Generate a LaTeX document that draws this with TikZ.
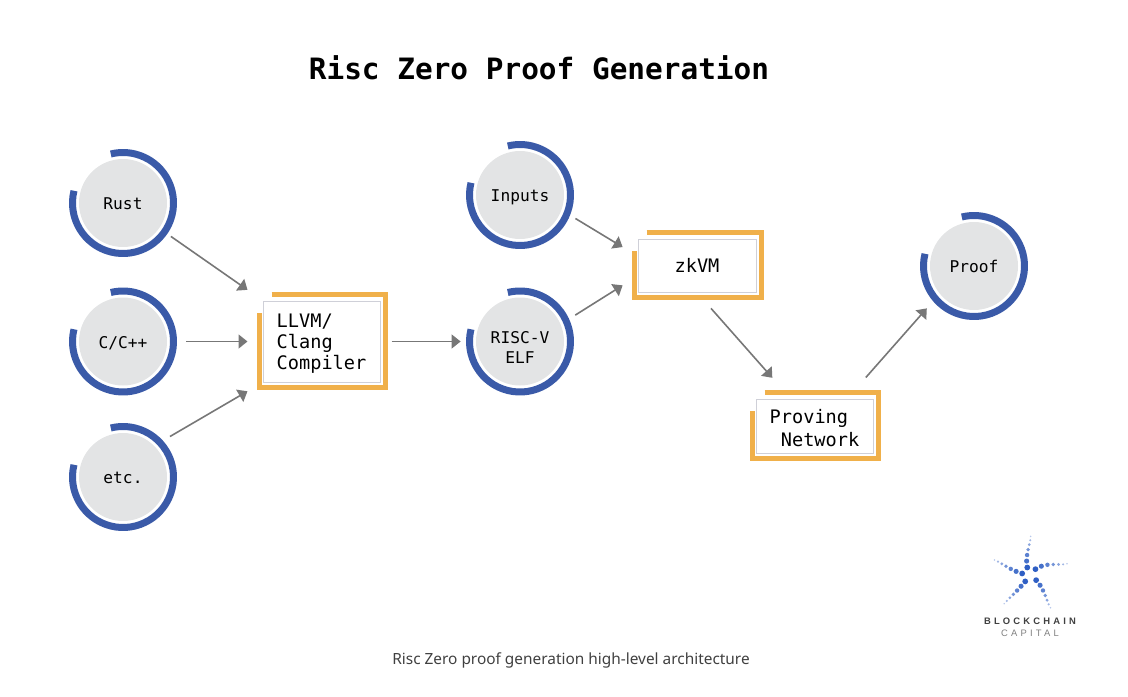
\documentclass[tikz,border=0pt]{standalone}
\usepackage{fontspec}
\setmainfont{Noto Sans}
\setmonofont{DejaVu Sans Mono}
\usetikzlibrary{arrows.meta}
\definecolor{ringblue}{HTML}{3A5AA8}
\definecolor{discgray}{HTML}{E3E4E5}
\definecolor{barorange}{HTML}{F0B04A}
\definecolor{boxgray}{HTML}{CFD0D8}
\definecolor{arrowgray}{HTML}{777777}
\definecolor{logoblue}{HTML}{2F5FC4}
\newfontfamily\logofont[LetterSpace = 34]{Liberation Sans}
\tikzset{
	lang/.style = {circle, fill = discgray, minimum size = 44pt, inner sep = 0pt, align = center, text height = 6.8pt, text depth = 0pt, font = \ttfamily\fontsize{8.1}{10}\selectfont},
	stage/.style = {rectangle, draw = boxgray, fill = white, line width = 0.5pt, inner sep = 0pt, align = left, font = \ttfamily\fontsize{9.3}{10.6}\selectfont},
	ring/.style = {draw = ringblue, line width = 3.5pt},
	bracket/.style = {draw = barorange, line width = 2.5pt},
	conn/.style = {draw = arrowgray, line width = 0.8pt, -{Triangle[length = 4.5pt, width = 7pt]}}
}
\begin{document}
\begin{tikzpicture}[x = 0.5pt, y = -0.5pt]
	\useasboundingbox (0, 0) rectangle (1128, 696);

	% Titles
	\node[font = \ttfamily\bfseries\fontsize{14.7}{17}\selectfont] (title) at (539, 68) {Risc Zero Proof Generation};
	\node[font = \fontsize{7.7}{9}\selectfont, text = black!75] (caption) at (571, 660) {Risc Zero proof generation high-level architecture};

	% Nodes
	\node[lang] (rust) at (123, 203) {Rust};
	\node[lang] (cpp) at (123, 341.5) {C/C++};
	\node[lang] (etc) at (123, 477) {etc.};
	\node[lang] (inputs) at (520, 195) {Inputs};
	\node[lang, text height = 22pt] (elf) at (520, 341.5) {RISC-V\\ELF};
	\node[lang] (proof) at (974, 266) {Proof};
	\node[stage, text depth = 0pt, minimum width = 58.5pt, minimum height = 40.5pt] (llvm) at (321.5, 341.5) {LLVM/\\Clang\\Compiler};
	\node[stage, minimum width = 59pt, minimum height = 26.5pt] (zkvm) at (697, 265.5) {zkVM};
	\node[stage, text height = 20.3pt, text depth = 0pt, minimum width = 58.5pt, minimum height = 27pt] (proving) at (814.5, 426) {Proving\\[0.7pt]\hspace{0.6em}Network};

	% Rings and brackets
	\foreach \n in {rust, cpp, etc, inputs, elf, proof}
		\draw[ring] ([shift = {(-166:50.5)}]\n.center) arc[start angle = -166, end angle = -464, radius = 50.5];
	\foreach \n in {llvm, zkvm, proving}
		\draw[bracket] ([shift = {(9, -6)}]\n.north west) -| ([shift = {(4.5, 5)}]\n.south east) -| ([shift = {(-3.5, 12)}]\n.north west);

	% Edges
	\draw[conn, shorten <= 7pt, shorten >= 9.3pt] (rust) to (llvm);
	\draw[conn, shorten <= 9.5pt, shorten >= 7.5pt] (cpp) to (llvm);
	\draw[conn, shorten <= 9pt, shorten >= 8.7pt] (etc.45) to (llvm.south west);
	\draw[conn, shorten <= 5.5pt, shorten >= 7.5pt] (llvm) to (elf);
	\draw[conn, shorten <= 8pt, shorten >= 8.7pt] (inputs.-20) to (zkvm.171);
	\draw[conn, shorten <= 8.5pt, shorten >= 8.8pt] (elf.23) to (zkvm.190);
	\draw[conn, shorten <= 10.6pt, shorten >= 13.8pt] (zkvm.south) to (proving.131);
	\draw[conn, shorten <= 14pt, shorten >= 9.6pt] (proving.40) to (proof.219);

	% Logo
	\foreach \a/\b in {89/21, 17/30, -58/18, -132/5, 157/12}
		\foreach \i in {0, ..., 6} {
			\pgfmathsetmacro{\r}{8 + 6.6*\i - 0.25*\i*\i}
			\pgfmathsetmacro{\t}{\a + \b*(1 - \i/6)*(1 - \i/6)}
			\pgfmathsetmacro{\s}{1.45 - 0.17*\i}
			\pgfmathsetmacro{\o}{1 - 0.11*\i}
			\fill[logoblue, opacity = \o] ([shift = {(-\t:\r)}]1030, 575) circle[radius = \s pt];
		}
	\node[font = \logofont\bfseries\fontsize{4.7}{5}\selectfont, text = black!75] (logotop) at (1030, 621) {BLOCKCHAIN};
	\node[font = \logofont\fontsize{4.7}{5}\selectfont, text = black!50] (logosub) at (1030, 633) {CAPITAL};
\end{tikzpicture}
\end{document}
